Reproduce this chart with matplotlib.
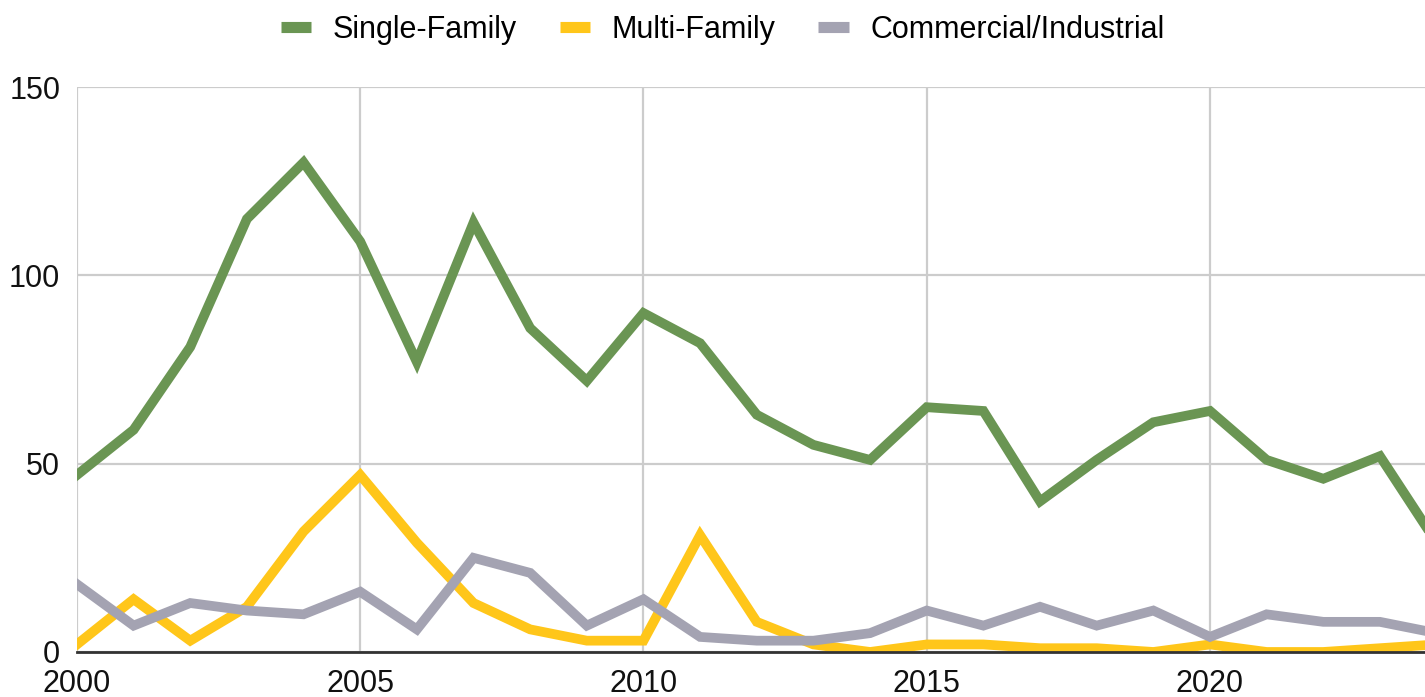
import matplotlib.pyplot as plt
import numpy as np

plt.rcParams['font.family'] = ['Liberation Sans', 'DejaVu Sans']

# Dados
years = list(range(2000, 2025))
single_family = [47, 59, 81, 115, 130, 109, 77, 114, 86, 72, 90, 82, 63, 55, 51,
                 65, 64, 40, 51, 61, 64, 51, 46, 52, 29]
multi_family = [2, 14, 3, 12, 32, 47, 29, 13, 6, 3, 3, 31, 8, 2, 0,
                2, 2, 1, 1, 0, 2, 0, 0, 1, 2]
commercial = [18, 7, 13, 11, 10, 16, 6, 25, 21, 7, 14, 4, 3, 3, 5,
              11, 7, 12, 7, 11, 4, 10, 8, 8, 5]

series = [
    ("Single-Family", single_family, "#6a9553"),
    ("Multi-Family", multi_family, "#ffc61a"),
    ("Commercial/Industrial", commercial, "#a4a3b2"),
]

fig = plt.figure(figsize=(14.25, 6.97), dpi=100)
ax = fig.add_axes([0.054, 0.0646, 0.946, 0.8104])

for name, vals, color in series:
    ax.plot(years, vals, color=color, linewidth=7.0, label=name,
            solid_joinstyle='miter', zorder=3)

ax.set_xlim(2000, 2000 + 1348 / 56.65)
ax.set_ylim(0, 150)
ax.set_xticks([2000, 2005, 2010, 2015, 2020])
ax.set_yticks([0, 50, 100, 150])
ax.grid(True, color="#cccccc", linewidth=1.6, zorder=0)
ax.tick_params(length=0, labelsize=22, colors="#111111")
ax.tick_params(axis='x', pad=12)
ax.tick_params(axis='y', pad=12)

for side in ["top", "right", "left"]:
    ax.spines[side].set_visible(False)
ax.spines["bottom"].set_color("#333333")
ax.spines["bottom"].set_linewidth(2)
ax.spines["bottom"].set_zorder(4)

handles = [plt.Line2D([], [], color=c, linewidth=8, solid_capstyle='butt')
           for _, _, c in series]
fig.legend(handles, [s[0] for s in series], loc="upper center",
           bbox_to_anchor=(0.507, 1.018), ncol=3, frameon=False,
           fontsize=22, handlelength=1.0, handletextpad=0.7, columnspacing=1.4)

fig.savefig("out.png", dpi=100)
